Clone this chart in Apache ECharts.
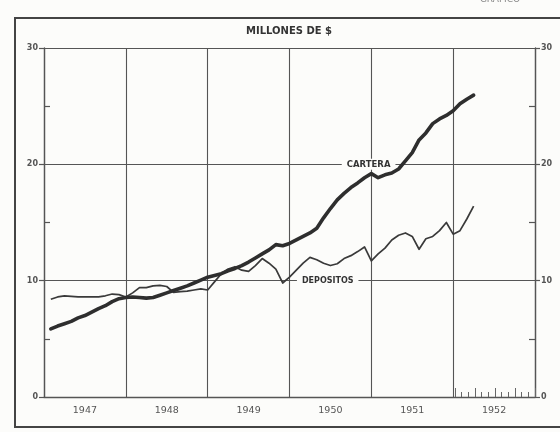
<!DOCTYPE html>
<html>
<head>
<meta charset="utf-8">
<title>Cartera y depositos</title>
<script src="https://cdn.jsdelivr.net/npm/echarts@6/dist/echarts.min.js"></script>
<style>
  html, body { margin: 0; padding: 0; background: #fcfcfa; }
  #chart { width: 560px; height: 432px; }
</style>
</head>
<body>
<div id="chart"></div>
<script>
// eje x en meses desde enero 1947 (fin de mes)
const years = ['1947', '1948', '1949', '1950', '1951', '1952'];
const yTicks = [0, 10, 20, 30];

// millones de $, enero 1947 .. marzo 1952
const cartera = [
    5.85, 6.1, 6.3, 6.5, 6.8, 7.0, 7.3, 7.6, 7.85, 8.2, 8.45, 8.55,
    8.6, 8.55, 8.5, 8.55, 8.75, 8.95, 9.15, 9.35, 9.55, 9.8, 10.05, 10.3,
    10.45, 10.6, 10.85, 11.05, 11.3, 11.6, 11.95, 12.3, 12.65, 13.1, 13.0, 13.2,
    13.5, 13.8, 14.1, 14.5, 15.4, 16.2, 16.95, 17.5, 18.0, 18.4, 18.85, 19.2,
    18.85, 19.1, 19.25, 19.6, 20.3, 21.0, 22.1, 22.7, 23.5, 23.9, 24.2, 24.6,
    25.2, 25.6, 25.95
];
const depositos = [
    8.4, 8.6, 8.7, 8.65, 8.6, 8.6, 8.6, 8.6, 8.7, 8.85, 8.8, 8.6,
    8.95, 9.4, 9.4, 9.55, 9.6, 9.5, 9.0, 9.05, 9.1, 9.2, 9.3, 9.2,
    9.9, 10.6, 11.0, 11.2, 10.9, 10.8, 11.3, 11.9, 11.5, 11.0, 9.8, 10.3,
    10.9, 11.5, 12.0, 11.8, 11.5, 11.3, 11.45, 11.9, 12.15, 12.5, 12.9, 11.7,
    12.3, 12.8, 13.5, 13.9, 14.1, 13.8, 12.7, 13.6, 13.8, 14.3, 15.0, 14.0,
    14.3, 15.3, 16.4
];

const ink = '#2e2e2e';
const gridInk = '#555';
const font = 'DejaVu Sans';

function toPoints(arr) {
    return arr.map((v, i) => [i + 1, v]);
}

var myChart = echarts.init(document.getElementById('chart'));

var yAxisBase = {
    type: 'value',
    min: yTicks[0],
    max: yTicks[yTicks.length - 1],
    interval: 10,
    axisLine: { show: true, lineStyle: { color: gridInk, width: 1.4 } },
    axisTick: { show: true, length: 5, lineStyle: { color: gridInk, width: 1.2 } },
    minorTick: { show: true, splitNumber: 2, length: -6, lineStyle: { color: gridInk, width: 1.2 } },
    axisLabel: { fontFamily: font, fontSize: 8, fontWeight: 'bold', color: '#555', margin: 6 }
};

var option = {
    backgroundColor: '#fcfcfa',
    animation: false,
    graphic: [
        {
            type: 'rect',
            shape: { x: 15, y: 18, width: 560, height: 409 },
            style: { fill: null, stroke: '#444', lineWidth: 2 },
            z: -1
        },
        {
            type: 'text',
            x: 500, y: 4,
            style: { text: 'GRAFICO', fill: '#888', font: '9px ' + font, textAlign: 'center', textVerticalAlign: 'bottom' }
        },
        {
            type: 'text',
            x: 289, y: 31,
            style: { text: 'MILLONES DE $', fill: '#333', font: 'bold 10px ' + font, textAlign: 'center', textVerticalAlign: 'middle' }
        }
    ],
    grid: [
        { left: 44, right: 25, top: 48, bottom: 35 },
        { left: 455, width: 80, top: 396, height: 1 }
    ],
    xAxis: [
        {
            type: 'value', gridIndex: 0, min: 0, max: 72, interval: 12,
            axisLine: { show: true, onZero: false, lineStyle: { color: gridInk, width: 1.4 } },
            axisTick: { show: false },
            axisLabel: { show: false },
            splitLine: { show: true, lineStyle: { color: gridInk, width: 1.1 } }
        },
        {
            type: 'category', gridIndex: 0, data: years, position: 'bottom',
            boundaryGap: true,
            axisLine: { show: false },
            axisTick: { show: false },
            axisLabel: { fontFamily: font, fontSize: 9.5, color: '#555', margin: 9 }
        },
        {
            type: 'value', gridIndex: 1, min: 0, max: 12, interval: 3,
            axisLine: { show: false },
            axisTick: { show: true, inside: true, length: 9, lineStyle: { color: '#666', width: 1 } },
            minorTick: { show: true, splitNumber: 3, length: 5, lineStyle: { color: '#666', width: 1 } },
            axisLabel: { show: false },
            splitLine: { show: false }
        }
    ],
    yAxis: [
        Object.assign({}, yAxisBase, {
            gridIndex: 0, position: 'left',
            splitLine: { show: true, lineStyle: { color: gridInk, width: 1.1 } }
        }),
        Object.assign({}, yAxisBase, {
            gridIndex: 0, position: 'right',
            splitLine: { show: false }
        }),
        { type: 'value', gridIndex: 1, show: false }
    ],
    series: [
        {
            name: 'CARTERA',
            type: 'line',
            xAxisIndex: 0, yAxisIndex: 0,
            data: toPoints(cartera),
            symbol: 'none',
            lineStyle: { color: ink, width: 3.6, cap: 'round', join: 'round' },
            z: 5,
            markPoint: {
                symbol: 'circle', symbolSize: 0,
                label: {
                    show: true, position: 'inside', formatter: 'CARTERA',
                    fontFamily: font, fontSize: 8.5, fontWeight: 'bold', color: '#333',
                    backgroundColor: '#fcfcfa', padding: [1, 5]
                },
                data: [{ coord: [47.6, 20] }]
            }
        },
        {
            name: 'DEPOSITOS',
            type: 'line',
            xAxisIndex: 0, yAxisIndex: 0,
            data: toPoints(depositos),
            symbol: 'none',
            lineStyle: { color: '#3a3a3a', width: 1.7, join: 'round' },
            z: 4,
            markPoint: {
                symbol: 'circle', symbolSize: 0,
                label: {
                    show: true, position: 'inside', formatter: 'DEPOSITOS',
                    fontFamily: font, fontSize: 8, fontWeight: 'bold', color: '#333',
                    backgroundColor: '#fcfcfa', padding: [1, 5]
                },
                data: [{ coord: [41.6, 10] }]
            }
        }
    ]
};

myChart.setOption(option);
</script>
</body>
</html>
